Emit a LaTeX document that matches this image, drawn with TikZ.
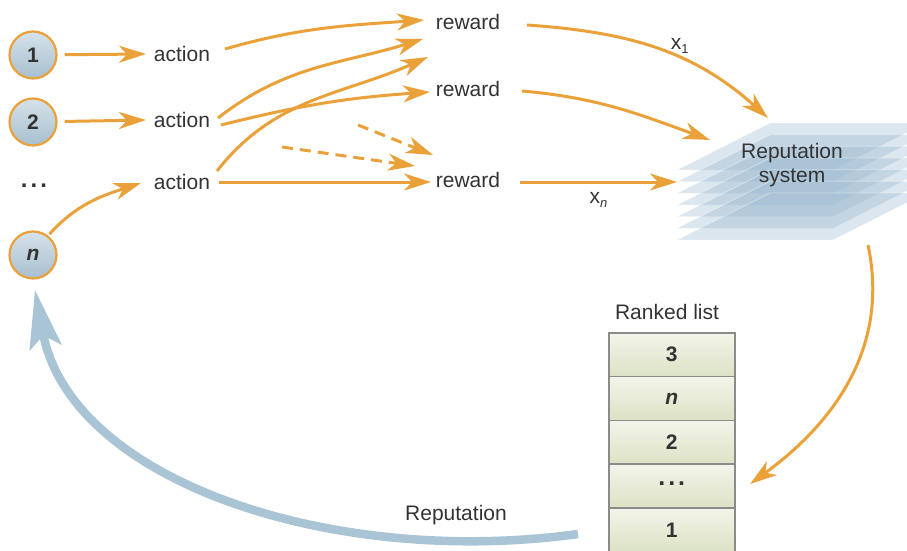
\documentclass[tikz,border=0pt]{standalone}
\usepackage{fontspec}
\setmainfont{Liberation Sans}
\usetikzlibrary{arrows.meta}
\definecolor{org}{HTML}{EBA13A}
\definecolor{txt}{HTML}{333333}
\definecolor{bluar}{HTML}{A9C4D4}
\definecolor{layer}{HTML}{97B6CE}
\definecolor{cellborder}{HTML}{8E8A8A}
\definecolor{D6E2EA}{HTML}{D6E2EA}
\definecolor{A7BFCF}{HTML}{A7BFCF}
\definecolor{F3F4EA}{HTML}{F3F4EA}
\definecolor{DCE2C4}{HTML}{DCE2C4}
\newcommand{\mydots}{.\kern3pt.\kern3pt.}
\begin{document}
\begin{tikzpicture}[x=1pt,y=1pt,
  font=\fontsize{21}{24}\selectfont, text=txt,
  oarr/.style={draw=org, line width=3pt, -{Stealth[length=27pt,width=17pt,inset=8pt]}},
  darr/.style={oarr, dash pattern=on 11pt off 7pt},
  agent/.style={circle, draw=org, line width=2.2pt, minimum size=47pt, inner sep=0pt,
    top color=D6E2EA, bottom color=A7BFCF, font=\bfseries\fontsize{21}{24}\selectfont},
  lbl/.style={inner sep=0pt},
  cell/.style={draw=cellborder, line width=1.5pt, minimum width=126pt, minimum height=43.8pt,
    anchor=north west, top color=F3F4EA, bottom color=DCE2C4, font=\bfseries\fontsize{21}{24}\selectfont},
  rslayer/.style={fill=layer, fill opacity=0.35, draw=white, draw opacity=0.4, line width=0.8pt}
]
\useasboundingbox (0,0) rectangle (907,-551);
\clip (0,0) rectangle (907,-551);

% reputation system layers
\foreach \yb in {170,181.7,193.3,205,216.7,228.3,240}{
  \path[rslayer] (677,-\yb) -- (833,-\yb) -- (926,-\yb+47) -- (770,-\yb+47) -- cycle;
}
\node[lbl, align=center, font=\fontsize{21}{24}\selectfont] (rs) at (792,-165) {Reputation\\system};

% agents
\node[agent] (c1) at (33,-55) {1};
\node[agent] (c2) at (33,-122) {2};
\node[agent] (cn) at (33,-255) {\itshape n};
\node[lbl, font=\bfseries\fontsize{24}{24}\selectfont] (dots) at (34,-186) {\mydots};

% actions
\node[lbl] (a1) at (182,-54) {action};
\node[lbl] (a2) at (182,-120) {action};
\node[lbl] (a3) at (182,-182) {action};

% rewards
\node[lbl] (r1) at (468,-22) {reward};
\node[lbl] (r2) at (468,-89) {reward};
\node[lbl] (r3) at (468,-180) {reward};

% connector endpoints
\coordinate (a1in) at (146,-54);
\coordinate (a2in) at (146,-120);
\coordinate (a3in) at (141,-183);
\coordinate (a1out) at (225,-49);
\coordinate (a2outA) at (218,-118);
\coordinate (a2outB) at (221,-125);
\coordinate (a3outA) at (217,-171);
\coordinate (a3outB) at (219,-182);
\coordinate (r1in) at (424,-20);
\coordinate (fA) at (423,-39);
\coordinate (r2in) at (430,-92);
\coordinate (fB) at (428,-57);
\coordinate (r3in) at (431,-182);
\coordinate (dAs) at (358,-125);
\coordinate (dAe) at (433,-155);
\coordinate (dBs) at (282,-147);
\coordinate (dBe) at (415,-166);
\coordinate (r1out) at (527,-25);
\coordinate (r2out) at (522,-91);
\coordinate (r3out) at (520,-182);
\coordinate (rs1) at (768,-118);
\coordinate (rs2) at (710,-140);
\coordinate (rs3) at (677,-182);
\coordinate (rsout) at (868,-245);
\coordinate (listin) at (750,-484);
\coordinate (repstart) at (578,-534);
\coordinate (repend) at (35,-290);

% agent -> action
\draw[oarr, shorten <=7pt] (c1) -- (a1in);
\draw[oarr, shorten <=7pt] (c2) -- (a2in);
\draw[oarr, shorten <=2pt] (cn.52) to[out=48, in=198] (a3in);

% action -> reward
\draw[oarr] (a1out) to[out=16, in=184] (r1in);
\draw[oarr] (a2outA) to[out=38, in=197] (fA);
\draw[oarr] (a2outB) to[out=14, in=184] (r2in);
\draw[oarr] (a3outA) to[out=52, in=204] (fB);
\draw[oarr] (a3outB) -- (r3in);
\draw[darr] (dAs) -- (dAe);
\draw[darr] (dBs) -- (dBe);

% reward -> reputation system
\draw[oarr] (r1out) to[out=-4, in=138] node[pos=0.6, above=3pt, lbl]
  {x\raisebox{-0.35ex}{\fontsize{13}{13}\selectfont 1}} (rs1);
\draw[oarr] (r2out) to[out=-5, in=160] (rs2);
\draw[oarr] (r3out) -- node[pos=0.5, below=9pt, lbl]
  {x\raisebox{-0.35ex}{\fontsize{13}{13}\selectfont\itshape n}} (rs3);

% reputation system -> ranked list
\draw[oarr] (rsout) to[out=-78, in=36] (listin);

% ranked list
\node[lbl] (rlabel) at (667,-312) {Ranked list};
\node[cell] (l1) at (608,-332) {3};
\node[cell] (l2) at (608,-375.8) {\itshape n};
\node[cell] (l3) at (608,-419.6) {2};
\node[cell, font=\bfseries\fontsize{25}{25}\selectfont] (l4) at (608,-463.4) {\raisebox{0.35ex}{\mydots}};
\node[cell] (l5) at (608,-507.2) {1};

% reputation feedback
\draw[draw=bluar, line width=8.5pt, -{Stealth[length=58pt,width=32pt,inset=12pt]}]
  (repstart) .. controls (330,-568) and (70,-480) .. (repend);
\node[lbl] (replabel) at (456,-515) {Reputation};
\end{tikzpicture}
\end{document}
